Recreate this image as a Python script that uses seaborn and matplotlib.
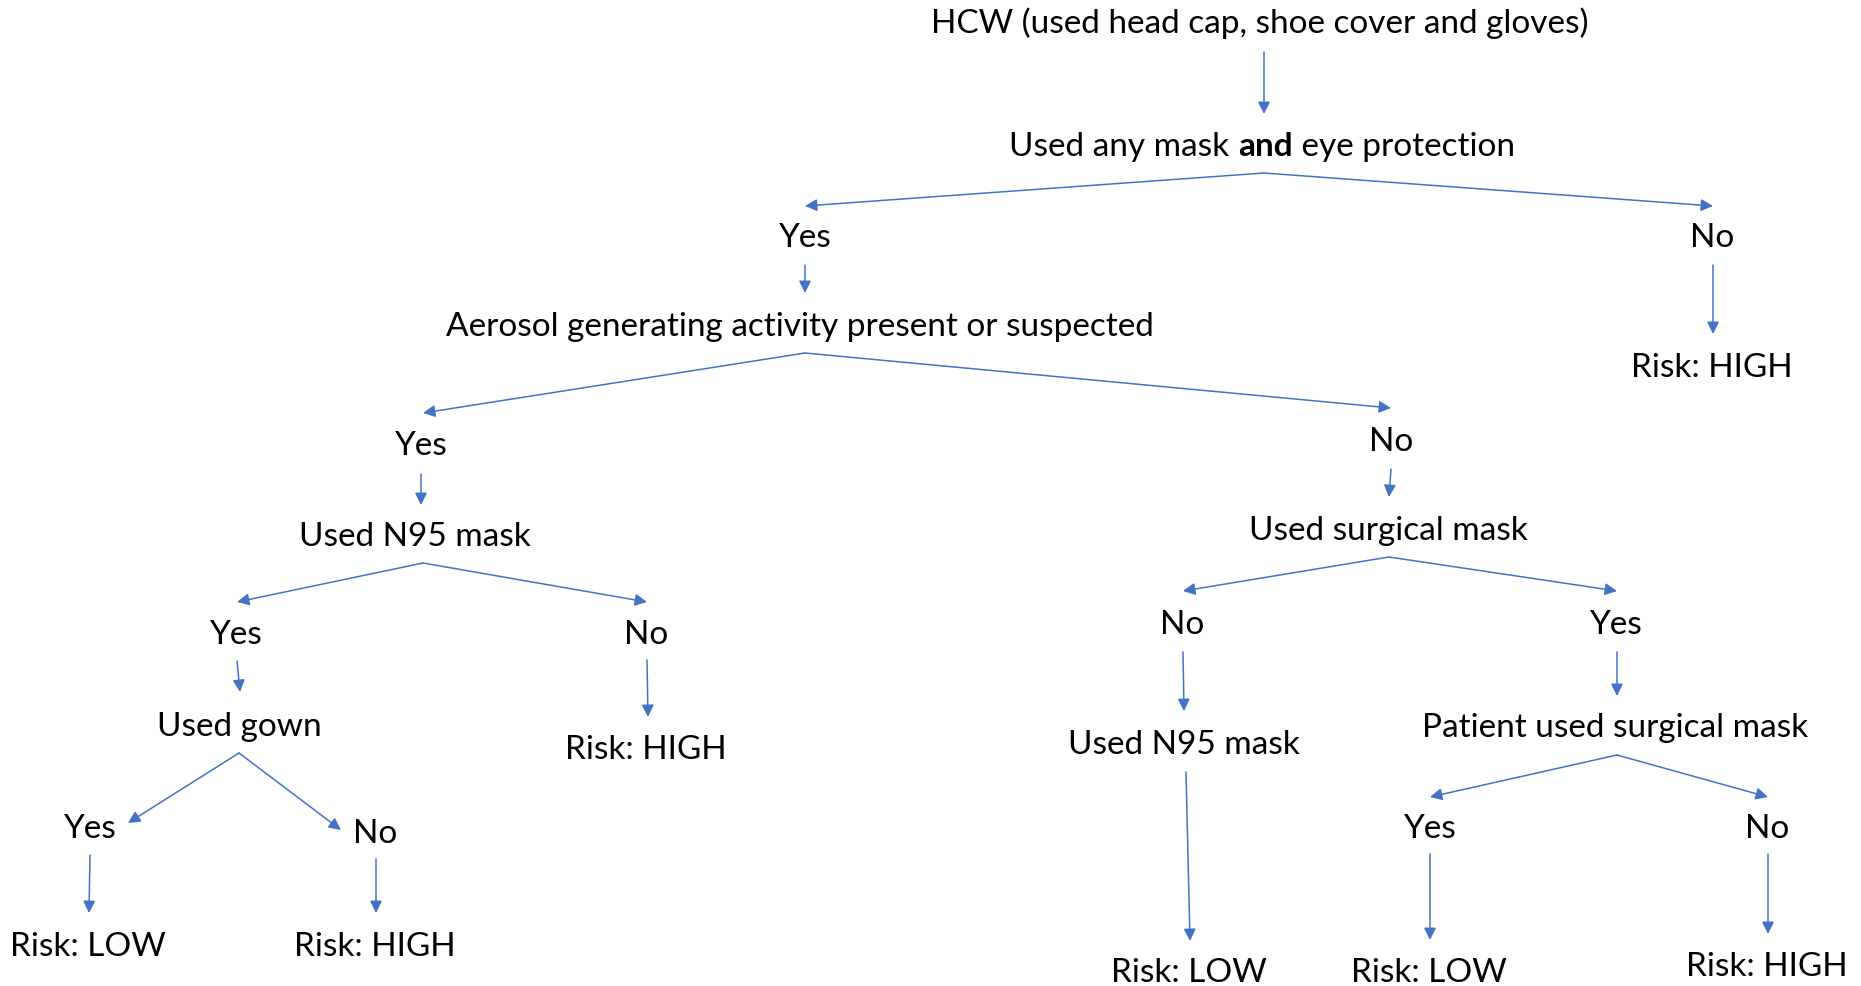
# ============================================
# PPE RISK DECISION TREE
# ============================================

import seaborn as sns
import matplotlib.pyplot as plt

# ============================================
# DATA
# ============================================

# node labels and their centres (pixel units, y grows downward)
node_labels = [
    "HCW (used head cap, shoe cover and gloves)",
    None,  # mixed-weight label, drawn separately
    "Yes", "No",
    "Aerosol generating activity present or suspected",
    "Risk: HIGH",
    "Yes", "No",
    "Used N95 mask", "Used surgical mask",
    "Yes", "No", "No", "Yes",
    "Used gown", "Risk: HIGH", "Used N95 mask", "Patient used surgical mask",
    "Yes", "No", "Yes", "No",
    "Risk: LOW", "Risk: HIGH", "Risk: LOW", "Risk: LOW", "Risk: HIGH",
]
node_x = [1260, 1262, 804, 1712, 800, 1712, 420, 1391, 415, 1388,
          235, 646, 1182, 1615, 239, 646, 1184, 1615,
          89, 375, 1429, 1767, 88, 375, 1189, 1429, 1767]
node_y = [23, 147, 238, 238, 327, 368, 446, 442, 537, 531,
          635, 635, 625, 625, 727, 750, 745, 728,
          829, 834, 829, 829, 947, 947, 973, 973, 967]

mixed_parts = ["Used any mask ", "and", " eye protection"]
mixed_weights = ["normal", "bold", "normal"]

# arrows: start -> end
arrow_x0 = [1264, 1264, 1264, 805, 1713, 805, 805, 421, 1391, 423, 423,
            1389, 1389, 237, 647, 1183, 1617, 239, 239, 1186, 1617, 1617,
            90, 376, 1430, 1768]
arrow_y0 = [53, 174, 174, 266, 266, 354, 354, 475, 470, 564, 564,
            558, 558, 662, 661, 653, 653, 754, 754, 773, 756, 756,
            856, 860, 855, 855]
arrow_x1 = [1264, 805, 1713, 805, 1713, 423, 1391, 421, 1389, 237, 647,
            1183, 1617, 240, 648, 1184, 1617, 128, 341, 1190, 1430, 1768,
            89, 376, 1430, 1768]
arrow_y1 = [115, 207, 207, 294, 335, 414, 409, 506, 498, 603, 603,
            592, 592, 693, 718, 712, 697, 824, 831, 942, 798, 798,
            914, 914, 941, 935]

# ============================================
# THEME
# ============================================

W, H = 1861, 987
ARROW_BLUE = "#4472C4"
FONT_SIZE = 24

sns.set_theme(style="white")
plt.rcParams["font.family"] = ["Lato", "DejaVu Sans"]

fig = plt.figure(figsize=(W / 100, H / 100), dpi=100)
ax = fig.add_axes([0, 0, 1, 1])
ax.set_xlim(0, W)
ax.set_ylim(H, 0)
ax.axis("off")

# ============================================
# ARROWS
# ============================================

for x0, y0, x1, y1 in zip(arrow_x0, arrow_y0, arrow_x1, arrow_y1):
    ax.annotate(
        "",
        xy=(x1, y1),
        xytext=(x0, y0),
        arrowprops=dict(
            arrowstyle="-|>",
            color=ARROW_BLUE,
            lw=1.1,
            mutation_scale=18,
            shrinkA=0,
            shrinkB=0,
        ),
    )

# ============================================
# LABELS
# ============================================

for label, x, y in zip(node_labels, node_x, node_y):
    if label is None:
        continue
    ax.text(x, y, label, ha="center", va="center",
            fontsize=FONT_SIZE, color="black")

# mixed weight label: measure pieces, then lay them out centred
idx = node_labels.index(None)
renderer = fig.canvas.get_renderer()
inv = ax.transData.inverted()
widths = []
for part, wt in zip(mixed_parts, mixed_weights):
    t = ax.text(0, 0, part, fontsize=FONT_SIZE, fontweight=wt)
    bb = t.get_window_extent(renderer=renderer)
    p0 = inv.transform((bb.x0, bb.y0))
    p1 = inv.transform((bb.x1, bb.y0))
    widths.append(p1[0] - p0[0])
    t.remove()

cursor = node_x[idx] - sum(widths) / 2
for part, wt, w in zip(mixed_parts, mixed_weights, widths):
    ax.text(cursor, node_y[idx], part, ha="left", va="center",
            fontsize=FONT_SIZE, fontweight=wt, color="black")
    cursor += w

plt.savefig("out.png", dpi=100)
plt.close()
